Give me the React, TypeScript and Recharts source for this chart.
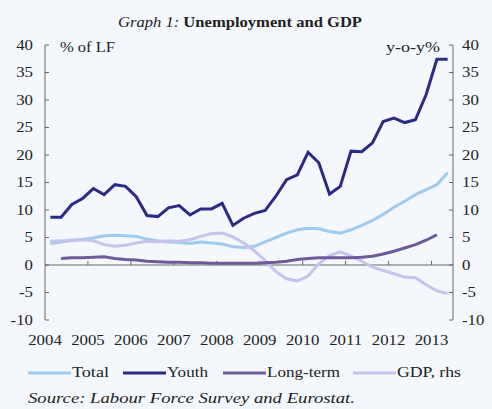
import { LineChart, Line, XAxis, YAxis, ReferenceLine, Legend } from 'recharts'

const SERIF = '"Liberation Serif", "Times New Roman", serif'

// quarterly, 2004Q1 .. 2013Q2
const years = ['2004', '2005', '2006', '2007', '2008', '2009', '2010', '2011', '2012', '2013']
const quarters = years.flatMap((y) => ['Q1', 'Q2', 'Q3', 'Q4'].map((q) => `${y}${q}`)).slice(0, 38)

const total = [
  3.9, 4.2, 4.5, 4.7, 4.9, 5.3, 5.4, 5.3, 5.2, 4.7,
  4.4, 4.2, 4.1, 3.9, 4.2, 4.0, 3.8, 3.3, 3.2, 3.4,
  4.2, 5.0, 5.8, 6.4, 6.7, 6.6, 6.1, 5.8, 6.4, 7.2,
  8.1, 9.2, 10.5, 11.6, 12.8, 13.7, 14.6, 16.8,
]
const youth = [
  8.7, 8.7, 11.0, 12.1, 13.9, 12.8, 14.6, 14.3, 12.4, 9.0,
  8.8, 10.4, 10.8, 9.1, 10.2, 10.2, 11.2, 7.2, 8.5, 9.4,
  9.9, 12.5, 15.5, 16.4, 20.5, 18.6, 12.9, 14.3, 20.7, 20.6,
  22.2, 26.1, 26.7, 25.9, 26.4, 31.0, 37.4, 37.4,
]
const longTerm = [
  null, 1.2, 1.3, 1.3, 1.4, 1.5, 1.2, 1.0, 0.9, 0.7,
  0.6, 0.5, 0.5, 0.4, 0.4, 0.3, 0.3, 0.3, 0.3, 0.3,
  0.4, 0.5, 0.7, 1.0, 1.2, 1.3, 1.3, 1.3, 1.3, 1.4,
  1.6, 2.0, 2.5, 3.1, 3.7, 4.5, 5.5, null,
]
const gdp = [
  4.3, 4.4, 4.4, 4.6, 4.4, 3.7, 3.4, 3.6, 4.0, 4.3,
  4.2, 4.4, 4.3, 4.6, 5.2, 5.7, 5.8, 5.1, 4.0, 2.6,
  0.8, -1.2, -2.5, -2.9, -2.0, 0.2, 1.7, 2.4, 1.6, 0.7,
  -0.4, -1.0, -1.6, -2.2, -2.3, -3.6, -4.7, -5.2,
]

const valueTicks = [-10, -5, 0, 5, 10, 15, 20, 25, 30, 35, 40]
const yearTicks = years.map((_, k) => k * 4 - 0.5)

const data = quarters.map((q, i) => ({
  i,
  q,
  total: total[i],
  youth: youth[i],
  longTerm: longTerm[i],
  gdp: gdp[i],
}))

const LEGEND_X = [28, 123, 223, 353]
const LEGEND_TEXT_W = [37, 41, 73, 64]

function SideTick({ x, y, payload, textAnchor }: any) {
  return (
    <text
      x={x}
      y={y}
      dy={5}
      textAnchor={textAnchor}
      fontSize={14}
      fill="#222"
      fontFamily={SERIF}
      transform={`translate(${x} ${y}) scale(1.2 1) translate(${-x} ${-y})`}
    >
      {payload.value}
    </text>
  )
}

function YearTick({ x, y, payload }: any) {
  const label = years[Math.round((payload.value + 0.5) / 4)]
  return (
    <text
      x={x}
      y={y}
      dy={10}
      textAnchor="middle"
      fontSize={14}
      fill="#222"
      fontFamily={SERIF}
      transform={`translate(${x} ${y}) scale(1.2 1) translate(${-x} ${-y})`}
    >
      {label}
    </text>
  )
}

function LegendContent({ payload }: any) {
  return (
    <svg width={492} height={20}>
      {(payload ?? []).map((p: any, k: number) => (
        <g key={p.value}>
          <line x1={LEGEND_X[k]} x2={LEGEND_X[k] + 43} y1={10} y2={10} stroke={p.color} strokeWidth={3} />
          <text
            x={LEGEND_X[k] + 44}
            y={14}
            fontSize={14}
            fill="#222"
            fontFamily={SERIF}
            textLength={LEGEND_TEXT_W[k]}
            lengthAdjust="spacingAndGlyphs"
          >
            {p.value}
          </text>
        </g>
      ))}
    </svg>
  )
}

export default function App() {
  return (
    <div style={{ position: 'absolute', left: 0, top: 0, width: 492, height: 409, background: '#f4f8fc' }}>
      <LineChart width={492} height={409} data={data} margin={{ top: 45, right: 0, bottom: 59, left: 0 }}>
        <XAxis
          dataKey="i"
          type="number"
          domain={[-0.5, 37.5]}
          ticks={yearTicks}
          interval={0}
          axisLine={false}
          tickLine={false}
          tickSize={0}
          tickMargin={15}
          height={30}
          tick={<YearTick />}
        />
        <YAxis
          yAxisId="left"
          domain={[-10, 40]}
          ticks={valueTicks}
          interval={0}
          width={45}
          stroke="#666"
          tickSize={-4}
          tickMargin={16}
          tick={<SideTick />}
        />
        <YAxis
          yAxisId="right"
          orientation="right"
          domain={[-10, 40]}
          ticks={valueTicks}
          interval={0}
          width={39}
          stroke="#666"
          tickSize={-4}
          tickMargin={13}
          tick={<SideTick />}
        />
        <ReferenceLine yAxisId="left" y={0} stroke="#666" />
        {yearTicks.slice(1).map((t) => (
          <ReferenceLine
            key={t}
            yAxisId="left"
            segment={[{ x: t, y: 0 }, { x: t, y: 0.75 }]}
            stroke="#666"
          />
        ))}
        <Line yAxisId="left" dataKey="total" name="Total" stroke="#9ecbef" strokeWidth={3} dot={false} isAnimationActive={false} />
        <Line yAxisId="right" dataKey="gdp" name="GDP, rhs" stroke="#c7c3ef" strokeWidth={3} dot={false} isAnimationActive={false} legendType="line" />
        <Line yAxisId="left" dataKey="longTerm" name="Long-term" stroke="#6c5b98" strokeWidth={3} dot={false} isAnimationActive={false} />
        <Line yAxisId="left" dataKey="youth" name="Youth" stroke="#2b2a86" strokeWidth={3} dot={false} isAnimationActive={false} />
        <Legend
          layout="horizontal"
          verticalAlign="middle"
          align="center"
          itemSorter={(item: any) => ['Total', 'Youth', 'Long-term', 'GDP, rhs'].indexOf(item.value)}
          content={<LegendContent />}
          wrapperStyle={{ position: 'absolute', left: 0, top: 363, width: 492, height: 20 }}
        />
      </LineChart>
      <svg width={492} height={409} style={{ position: 'absolute', left: 0, top: 0, pointerEvents: 'none' }}>
        <text x={240} y={27} textAnchor="middle" fontSize={15} fill="#222" fontFamily={SERIF} textLength={244} lengthAdjust="spacingAndGlyphs">
          <tspan fontStyle="italic">Graph 1:</tspan>
          <tspan fontWeight="bold"> Unemployment and GDP</tspan>
        </text>
        <text x={60} y={52} fontSize={14} fill="#222" fontFamily={SERIF} textLength={55} lengthAdjust="spacingAndGlyphs">
          % of LF
        </text>
        <text x={386} y={52} fontSize={14} fill="#222" fontFamily={SERIF} textLength={54} lengthAdjust="spacingAndGlyphs">
          y-o-y%
        </text>
        <text x={28} y={403} fontSize={14} fontStyle="italic" fill="#222" fontFamily={SERIF} textLength={327} lengthAdjust="spacingAndGlyphs">
          Source: Labour Force Survey and Eurostat.
        </text>
      </svg>
    </div>
  )
}
